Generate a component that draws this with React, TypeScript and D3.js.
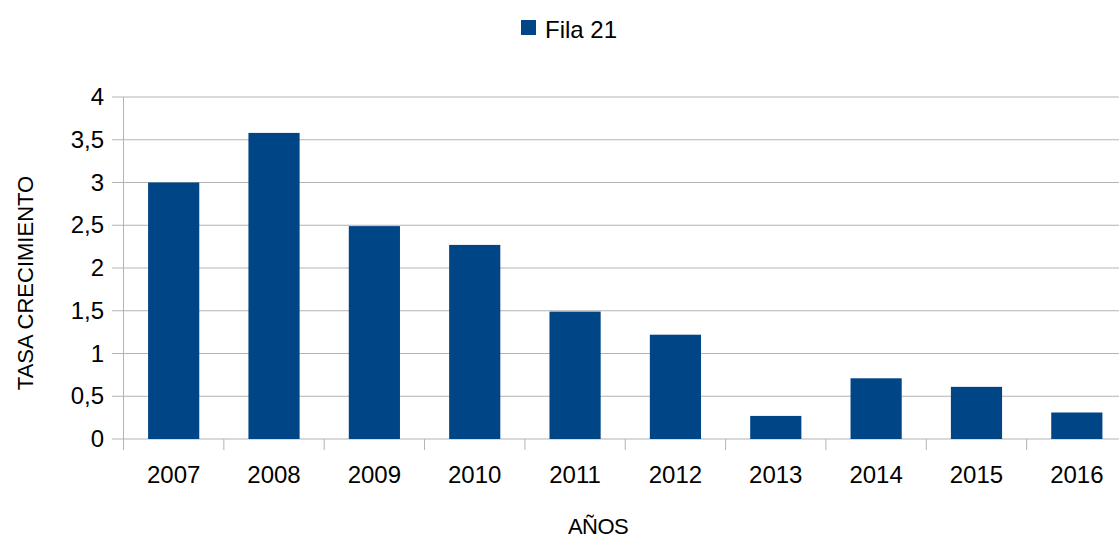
import React from "react";
import * as d3 from "d3";

const years = ["2007", "2008", "2009", "2010", "2011", "2012", "2013", "2014", "2015", "2016"];
const values = [3.0, 3.58, 2.49, 2.27, 1.49, 1.22, 0.27, 0.71, 0.61, 0.31];
const yTicks = [0, 0.5, 1, 1.5, 2, 2.5, 3, 3.5, 4];
const seriesName = "Fila 21";

const width = 1119;
const height = 538;
const left = 123.5;
const right = 1127;
const top = 97;
const bottom = 439;
const barColor = "#004586";
const gridColor = "#b3b3b3";
const font = "'Liberation Sans', Arial, sans-serif";

const fmt = (v: number) => String(v).replace(".", ",");

export default function App() {
  const x = d3.scaleBand().domain(years).range([left, right]).paddingInner(0.49).paddingOuter(0.245);
  const band = d3.scaleBand().domain(years).range([left, right]);
  const y = d3.scaleLinear().domain([0, 4]).range([bottom, top]);

  return (
    <svg
      width={width}
      height={height}
      style={{ position: "absolute", left: 0, top: 0, background: "#fff" }}
      fontFamily={font}
    >
      {yTicks.map((t) => (
        <g key={t}>
          <line x1={112} x2={right} y1={y(t)} y2={y(t)} stroke={gridColor} strokeWidth={1} />
          <text x={104} y={y(t)} dy="0.34em" textAnchor="end" fontSize={24} fill="#000">
            {fmt(t)}
          </text>
        </g>
      ))}
      <line x1={left} x2={left} y1={top} y2={bottom + 11} stroke={gridColor} strokeWidth={1} />
      {years.map((yr) => (
        <line
          key={"t" + yr}
          x1={(band(yr) ?? 0) + band.bandwidth()}
          x2={(band(yr) ?? 0) + band.bandwidth()}
          y1={bottom}
          y2={bottom + 11}
          stroke={gridColor}
          strokeWidth={1}
        />
      ))}
      {years.map((yr, i) => (
        <rect
          key={yr}
          x={x(yr)}
          y={y(values[i])}
          width={x.bandwidth()}
          height={y(0) - y(values[i])}
          fill={barColor}
        />
      ))}
      {years.map((yr) => (
        <text
          key={"l" + yr}
          x={(band(yr) ?? 0) + band.bandwidth() / 2}
          y={483}
          textAnchor="middle"
          fontSize={24}
          fill="#000"
        >
          {yr}
        </text>
      ))}
      <rect x={521} y={20} width={15} height={15} fill={barColor} />
      <text x={545} y={38} fontSize={24} fill="#000">
        {seriesName}
      </text>
      <text x={598} y={534} textAnchor="middle" fontSize={22} letterSpacing={-0.6} fill="#000">
        AÑOS
      </text>
      <text
        transform={`translate(33,283) rotate(-90)`}
        textAnchor="middle"
        fontSize={22}
        fill="#000"
      >
        TASA CRECIMIENTO
      </text>
    </svg>
  );
}
